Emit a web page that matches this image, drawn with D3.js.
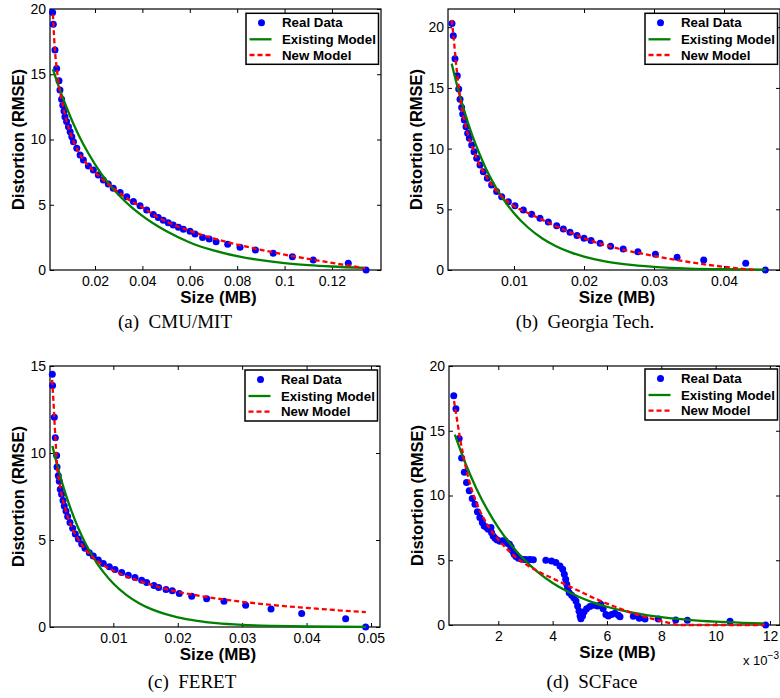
<!DOCTYPE html>
<html><head><meta charset="utf-8">
<script src="https://cdn.jsdelivr.net/npm/d3@7"></script>
<style>
body{margin:0;background:#fff}
svg{display:block}
</style>
</head><body>
<svg id="chart" width="780" height="698"></svg>
<script>
// ---------- Panel (a) CMU/MIT ----------
const aRealX = [0.0021,0.0024,0.0031,0.0038,0.0048,0.0052,0.0059,0.0064,0.0069,0.0073,0.0080,0.0088,0.0095,0.0102,0.0109,0.0123,0.0137,0.0151,0.0172,0.0193,0.0214,0.0235,0.0256,0.0277,0.0306,0.0334,0.0362,0.0390,0.0418,0.0446,0.0467,0.0488,0.0509,0.0530,0.0552,0.0573,0.0601,0.0622,0.0654,0.0682,0.0711,0.0760,0.0812,0.0877,0.0952,0.1033,0.1121,0.1269,0.1344];
const aRealY = [19.74,18.83,16.86,15.45,14.51,13.79,13.08,12.62,12.18,11.75,11.37,10.98,10.60,10.22,9.83,9.32,8.81,8.43,7.97,7.66,7.28,6.90,6.59,6.26,5.93,5.62,5.24,4.93,4.60,4.25,4.02,3.82,3.63,3.45,3.27,3.12,2.96,2.76,2.50,2.38,2.17,1.97,1.74,1.53,1.28,1.02,0.77,0.51,0.0];
const aExistX = [0.0022,0.005,0.008,0.011,0.015,0.02,0.025,0.03,0.035,0.04,0.045,0.05,0.06,0.07,0.08,0.09,0.10,0.11,0.12,0.134];
const aExistY = [15.4,13.9,12.45,11.15,9.65,8.1,6.8,5.75,4.88,4.15,3.52,2.98,2.11,1.50,1.06,0.75,0.53,0.38,0.27,0.16];
const aNewX = [0.0022,0.0026,0.003,0.0035,0.004,0.005,0.006,0.008,0.010,0.013,0.016,0.020,0.025,0.030,0.035,0.040,0.045,0.050,0.060,0.070,0.080,0.090,0.100,0.110,0.120,0.130,0.134];
const aNewY = [19.6,18.3,17.0,16.0,15.2,13.9,13.0,11.4,10.3,9.05,8.25,7.5,6.65,5.95,5.3,4.8,4.2,3.72,3.0,2.42,1.95,1.55,1.18,0.85,0.55,0.25,0.12];
const aXTicks = [0.02,0.04,0.06,0.08,0.10,0.12];
const aXTickLabels = ["0.02","0.04","0.06","0.08","0.1","0.12"];
const aYTicks = [0,5,10,15,20];

// ---------- Panel (b) Georgia Tech. ----------
const bRealX = [0.00114,0.00133,0.00157,0.0019,0.0021,0.00229,0.00252,0.00267,0.0029,0.00314,0.00338,0.00362,0.00395,0.00429,0.00467,0.00514,0.00562,0.00619,0.0068,0.00752,0.00824,0.00919,0.01014,0.01133,0.01252,0.01371,0.0149,0.0161,0.01705,0.018,0.019,0.020,0.021,0.0223,0.0238,0.0256,0.0277,0.0302,0.0333,0.0371,0.0431,0.0459];
const bRealY = [20.3,19.3,17.4,16.0,14.9,14.07,13.38,12.86,12.36,11.81,11.26,10.85,10.3,9.75,9.2,8.65,8.1,7.56,7.0,6.46,6.04,5.63,5.3,4.95,4.59,4.26,3.96,3.65,3.38,3.1,2.85,2.62,2.42,2.2,1.95,1.72,1.51,1.29,1.04,0.82,0.55,0.0];
const bExistX = [0.0011,0.002,0.003,0.004,0.005,0.006,0.007,0.008,0.009,0.010,0.012,0.014,0.016,0.018,0.020,0.023,0.026,0.030,0.035,0.040,0.046];
const bExistY = [17.0,14.92,12.91,11.16,9.66,8.35,7.23,6.25,5.41,4.68,3.50,2.62,1.96,1.47,1.10,0.71,0.46,0.26,0.12,0.06,0.03];
const bNewX = [0.0011,0.0014,0.0017,0.002,0.0025,0.003,0.0035,0.004,0.005,0.006,0.007,0.008,0.009,0.010,0.012,0.014,0.016,0.018,0.020,0.022,0.025,0.028,0.031,0.034,0.037,0.040,0.043,0.0445];
const bNewY = [20.6,19.0,17.1,15.6,13.4,12.1,11.0,10.2,8.75,7.75,6.85,6.2,5.7,5.25,4.7,4.15,3.6,3.1,2.6,2.22,1.75,1.38,1.05,0.75,0.48,0.26,0.08,0.0];
const bXTicks = [0.01,0.02,0.03,0.04];
const bXTickLabels = ["0.01","0.02","0.03","0.04"];
const bYTicks = [0,5,10,15,20];

// ---------- Panel (c) FERET ----------
const cRealX = [0.00053,0.00057,0.00084,0.00099,0.0012,0.00126,0.00146,0.00161,0.00177,0.00197,0.00219,0.00239,0.00265,0.00291,0.00327,0.00369,0.0041,0.00457,0.00509,0.0056,0.00627,0.00689,0.00767,0.00845,0.00938,0.01026,0.0113,0.01233,0.01337,0.0144,0.01518,0.01631,0.01704,0.01818,0.01916,0.02024,0.02217,0.02449,0.02718,0.03054,0.03448,0.03924,0.04607,0.04917];
const cRealY = [14.52,13.88,12.06,10.87,9.85,9.19,8.69,8.37,7.92,7.63,7.27,6.96,6.67,6.35,6.0,5.67,5.35,5.06,4.77,4.52,4.27,4.08,3.85,3.65,3.46,3.31,3.13,2.98,2.85,2.69,2.56,2.38,2.27,2.15,2.08,1.92,1.77,1.63,1.48,1.25,1.04,0.77,0.48,0.0];
const cExistX = [0.00055,0.0015,0.0025,0.0035,0.0045,0.0055,0.0065,0.0075,0.0085,0.010,0.012,0.014,0.016,0.018,0.020,0.023,0.026,0.030,0.035,0.040,0.0492];
const cExistY = [10.4,9.01,7.75,6.67,5.73,4.93,4.24,3.65,3.14,2.50,1.85,1.37,1.01,0.75,0.55,0.35,0.22,0.12,0.06,0.03,0.01];
const cNewX = [0.0005,0.0007,0.0009,0.0011,0.0013,0.0016,0.002,0.0025,0.003,0.004,0.005,0.006,0.007,0.008,0.010,0.012,0.014,0.016,0.018,0.020,0.023,0.026,0.030,0.035,0.040,0.045,0.0492];
const cNewY = [14.2,13.0,11.6,10.3,9.1,8.4,7.6,6.85,6.25,5.4,4.8,4.3,3.95,3.65,3.25,2.92,2.65,2.42,2.2,2.02,1.82,1.64,1.45,1.25,1.1,0.96,0.85];
const cXTicks = [0.01,0.02,0.03,0.04,0.05];
const cXTickLabels = ["0.01","0.02","0.03","0.04","0.05"];
const cYTicks = [0,5,10,15];

// ---------- Panel (d) SCFace (size in units of 10^-3 MB) ----------
const dRealX = [0.36,0.44,0.56,0.65,0.75,0.83,0.93,1.04,1.14,1.23,1.32,1.41,1.48,1.57,1.63,1.73,1.75,1.81,1.88,1.96,2.06,2.16,2.25,2.33,2.41,2.47,2.53,2.58,2.65,2.74,2.86,2.98,3.08,3.17,3.29,3.75,3.96,4.12,4.27,4.37,4.43,4.48,4.52,4.55,4.61,4.70,4.78,4.86,4.92,4.97,5.01,5.04,5.10,5.16,5.25,5.37,5.53,5.66,5.77,5.86,5.96,6.05,6.17,6.29,6.42,6.48,6.97,7.19,7.40,7.89,8.53,8.96,10.53,11.84];
const dRealY = [17.7,16.7,14.4,12.9,11.8,11.0,10.36,9.77,9.33,8.74,8.3,7.91,7.65,7.53,7.4,7.53,7.14,6.88,6.7,6.57,6.47,6.5,6.5,6.31,6.24,6.03,5.72,5.46,5.28,5.15,5.08,5.05,5.04,5.05,5.03,5.0,4.95,4.82,4.56,4.3,3.92,3.53,3.14,2.81,2.5,2.29,2.11,1.86,1.47,1.08,0.7,0.49,0.7,1.03,1.26,1.42,1.52,1.47,1.6,1.26,0.82,0.7,0.82,0.9,0.75,0.64,0.67,0.52,0.46,0.46,0.39,0.36,0.28,0.0];
const dExistX = [0.4,0.8,1.2,1.6,2.0,2.5,3.0,3.5,4.0,4.5,5.0,5.5,6.0,6.5,7.0,7.5,8.0,9.0,10.0,11.0,11.8];
const dExistY = [14.7,12.43,10.51,8.89,7.52,6.10,4.95,4.01,3.25,2.64,2.14,1.73,1.41,1.14,0.93,0.75,0.61,0.40,0.26,0.17,0.12];
const dNewX = [0.37,0.5,0.6,0.7,0.8,1.0,1.2,1.5,1.8,2.0,2.5,3.0,3.5,4.0,4.5,5.0,5.5,6.0,6.5,7.0,7.5,8.0,8.5,8.6,11.8];
const dNewY = [17.3,15.6,14.3,13.2,12.2,10.6,9.4,8.1,7.1,6.6,5.5,4.7,4.1,3.6,3.1,2.6,2.1,1.65,1.25,0.88,0.57,0.3,0.06,0.0,0.0];
const dXTicks = [2,4,6,8,10,12];
const dXTickLabels = ["2","4","6","8","10","12"];
const dYTicks = [0,5,10,15,20];

const legendLabels = ["Real Data","Existing Model","New Model"];
const xTitle = "Size (MB)";
const yTitle = "Distortion (RMSE)";

const panels = [
  {realX:aRealX, realY:aRealY, exX:aExistX, exY:aExistY, nwX:aNewX, nwY:aNewY,
   xd:[0.001,0.1407], yd:[0,20], xt:aXTicks, xl:aXTickLabels, yt:aYTicks,
   L:50, R:381, T:9, B:270, legT:13.3, cap:"(a)  CMU/MIT", capX:175, capY:328},
  {realX:bRealX, realY:bRealY, exX:bExistX, exY:bExistY, nwX:bNewX, nwY:bNewY,
   xd:[0.00057,0.048], yd:[0,21.5], xt:bXTicks, xl:bXTickLabels, yt:bYTicks,
   L:448, R:780, T:9, B:270, legT:13.3, cap:"(b)  Georgia Tech.", capX:585, capY:328},
  {realX:cRealX, realY:cRealY, exX:cExistX, exY:cExistY, nwX:cNewX, nwY:cNewY,
   xd:[0.00017,0.0514], yd:[0,15], xt:cXTicks, xl:cXTickLabels, yt:cYTicks,
   L:50, R:380, T:366, B:627, legT:370, cap:"(c)  FERET", capX:192, capY:688},
  {realX:dRealX, realY:dRealY, exX:dExistX, exY:dExistY, nwX:dNewX, nwY:dNewY,
   xd:[0.185,12.37], yd:[0,20], xt:dXTicks, xl:dXTickLabels, yt:dYTicks,
   L:449, R:780, T:366, B:625, legT:369, cap:"(d)  SCFace", capX:592, capY:688, exp:true}
];

const SANS = "'Liberation Sans',Arial,Helvetica,sans-serif";
const SERIF = "'Liberation Serif','Times New Roman',serif";
const svg = d3.select("#chart");
svg.append("rect").attr("width",780).attr("height",698).attr("fill","#fff");

const BLUE="#0000ff", GREEN="#008000", RED="#ff0000";

panels.forEach(p => {
  const x = d3.scaleLinear().domain(p.xd).range([p.L, p.R]);
  const y = d3.scaleLinear().domain(p.yd).range([p.B, p.T]);
  const g = svg.append("g").style("font-family", SANS);

  // axes with inward ticks on all four sides
  const ax = g.append("g").attr("transform",`translate(0,${p.B})`)
    .call(d3.axisBottom(x).tickValues(p.xt).tickSizeInner(-4).tickSizeOuter(0).tickPadding(6)
      .tickFormat((d,i)=>p.xl[i]));
  const axT = g.append("g").attr("transform",`translate(0,${p.T})`)
    .call(d3.axisTop(x).tickValues(p.xt).tickSizeInner(-4).tickSizeOuter(0).tickFormat(""));
  const ay = g.append("g").attr("transform",`translate(${p.L},0)`)
    .call(d3.axisLeft(y).tickValues(p.yt).tickSizeInner(-4).tickSizeOuter(0).tickPadding(4)
      .tickFormat(d3.format("d")));
  const ayR = g.append("g").attr("transform",`translate(${p.R},0)`)
    .call(d3.axisRight(y).tickValues(p.yt).tickSizeInner(-4).tickSizeOuter(0).tickFormat(""));
  [ax,axT,ay,ayR].forEach(a=>{
    a.select(".domain").remove();
    a.selectAll("line").attr("stroke","#000").attr("stroke-width",1);
    a.selectAll("text").style("font-size","14px").style("font-family",SANS).attr("fill","#000");
  });

  // frame
  g.append("rect").attr("x",p.L).attr("y",p.T).attr("width",p.R-p.L).attr("height",p.B-p.T)
    .attr("fill","none").attr("stroke","#000").attr("stroke-width",1.2);

  // real data
  const real = p.realX.map((v,i)=>[v,p.realY[i]]);
  g.append("g").selectAll("circle").data(real).join("circle")
    .attr("cx",d=>x(d[0])).attr("cy",d=>y(d[1])).attr("r",3.5).attr("fill",BLUE);

  const line = d3.line().x(d=>x(d[0])).y(d=>y(d[1])).curve(d3.curveMonotoneX);
  const ex = p.exX.map((v,i)=>[v,p.exY[i]]);
  g.append("path").datum(ex).attr("d",line).attr("fill","none")
    .attr("stroke",GREEN).attr("stroke-width",2.3);
  const nw = p.nwX.map((v,i)=>[v,p.nwY[i]]);
  g.append("path").datum(nw).attr("d",line).attr("fill","none")
    .attr("stroke",RED).attr("stroke-width",2.3).attr("stroke-dasharray","5,3");

  // axis titles
  g.append("text").attr("x",(p.L+p.R)/2 + 3).attr("y",p.B+33)
    .attr("text-anchor","middle").style("font-weight","bold").style("font-size","17px").text(xTitle);
  g.append("text").attr("transform",`translate(${p.L-26},${(p.T+p.B)/2}) rotate(-90)`)
    .attr("text-anchor","middle").style("font-weight","bold").style("font-size","16.5px").text(yTitle);

  // legend
  const lx = p.R - 135, ly = p.legT, lw = 132.5, lh = 51;
  const lg = g.append("g");
  lg.append("rect").attr("x",lx).attr("y",ly).attr("width",lw).attr("height",lh)
    .attr("fill","#fff").attr("stroke","#000").attr("stroke-width",1.5);
  const rows = [9.4,26,41.7];
  lg.append("circle").attr("cx",lx+15.5).attr("cy",ly+rows[0]).attr("r",3.5).attr("fill",BLUE);
  lg.append("line").attr("x1",lx+3.5).attr("x2",lx+25.5).attr("y1",ly+rows[1]).attr("y2",ly+rows[1])
    .attr("stroke",GREEN).attr("stroke-width",2.3);
  lg.append("line").attr("x1",lx+3.5).attr("x2",lx+25.5).attr("y1",ly+rows[2]).attr("y2",ly+rows[2])
    .attr("stroke",RED).attr("stroke-width",2.3).attr("stroke-dasharray","5,3");
  legendLabels.forEach((t,i)=>{
    lg.append("text").attr("x",lx+36).attr("y",ly+rows[i]+4.7)
      .style("font-weight","bold").style("font-size","13.3px").text(t);
  });

  // exponent label
  if (p.exp) {
    const t = g.append("text").attr("x",743).attr("y",665).style("font-size","13px");
    t.append("tspan").text("x 10");
    t.append("tspan").attr("dy",-6).style("font-size","10px").text("\u22123");
  }

  // caption
  g.append("text").attr("x",p.capX).attr("y",p.capY).attr("text-anchor","middle")
    .style("font-family",SERIF).style("font-size","19px")
    .style("white-space","pre").text(p.cap);
});
</script>
</body></html>
